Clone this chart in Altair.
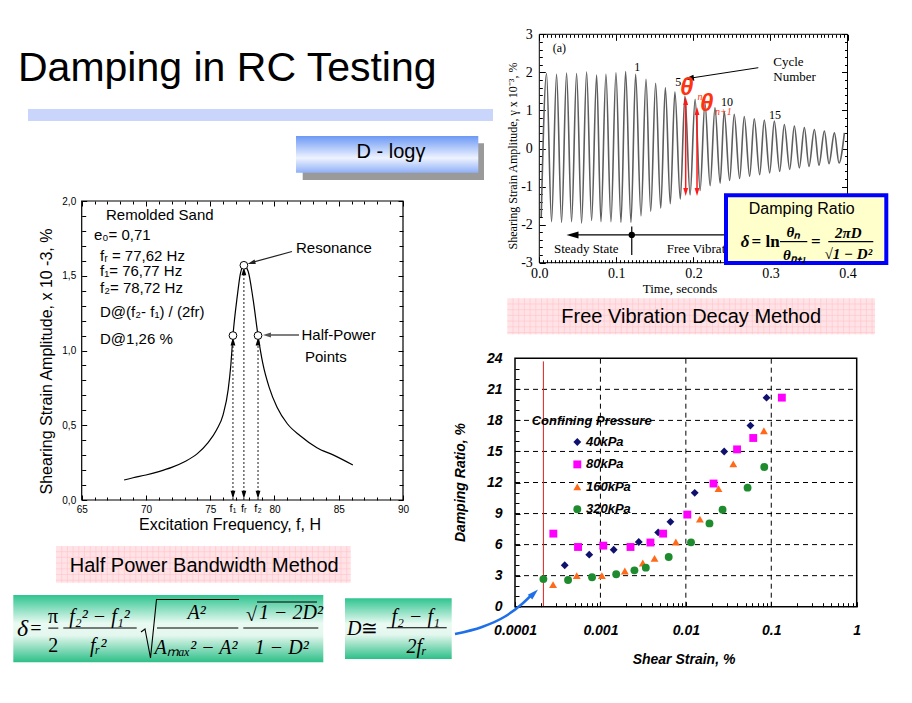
import math
import altair as alt
import pandas as pd

W, H = 896, 687
M = 8
SANS = "Liberation Sans"
SERIF = "Liberation Serif"

# ---------------- DATA ----------------
# Resonance curve (half-power bandwidth method)
res_freq = [68.3, 69.0, 70.0, 71.0, 72.0, 73.0, 74.0, 74.8, 75.5, 76.0, 76.4, 76.6, 76.77,
            77.1, 77.36, 77.62, 77.95, 78.34, 78.72, 79.1, 79.6, 80.2, 81.0, 82.0, 83.3, 84.6, 86.1]
res_amp = [0.134, 0.149, 0.167, 0.19, 0.218, 0.256, 0.31, 0.38, 0.47, 0.57, 0.74, 0.90, 1.10,
           1.36, 1.52, 1.57, 1.53, 1.34, 1.10, 0.91, 0.75, 0.62, 0.51, 0.43, 0.35, 0.30, 0.234]
hp_freq = [76.77, 77.62, 78.72]
hp_amp = [1.10, 1.57, 1.10]
hp_arrow_amp = [1.06, 1.53, 1.06]
hp_labels = ["f₁", "fᵣ", "f₂"]
res_x_ticks = [65, 70, 75, 80, 85, 90]
res_y_ticks = [0.0, 0.5, 1.0, 1.5, 2.0]

# Free vibration decay record
trough_t = [0.0025, 0.0159, 0.0289, 0.0419, 0.0549, 0.0679, 0.0800, 0.0930, 0.1060, 0.1190,
            0.1320, 0.1446, 0.1576, 0.1700, 0.1830, 0.1957, 0.2087, 0.2217, 0.2347, 0.2470,
            0.2600, 0.2730, 0.2860, 0.2990, 0.3120, 0.3250, 0.3375, 0.3500, 0.3630, 0.3760, 0.3890]
trough_v = [-1.80, -1.92, -1.94, -1.92, -1.96, -1.89, -1.92, -1.92, -1.94, -1.94,
            -1.77, -1.65, -1.57, -1.45, -1.33, -1.22, -1.10, -0.98, -0.91, -0.84,
            -0.79, -0.73, -0.69, -0.64, -0.60, -0.55, -0.51, -0.47, -0.44, -0.40, -0.38]
peak_t = [0.0094, 0.0224, 0.0354, 0.0484, 0.0614, 0.0744, 0.0865, 0.0995, 0.1120, 0.1250,
          0.1385, 0.1510, 0.1636, 0.1760, 0.1890, 0.2022, 0.2150, 0.2280, 0.2400, 0.2530,
          0.2660, 0.2790, 0.2920, 0.3050, 0.3180, 0.3310, 0.3440, 0.3570, 0.3700, 0.3830, 0.3960]
peak_v = [1.97, 1.95, 1.98, 1.97, 2.01, 1.93, 1.95, 1.99, 2.02, 1.95,
          1.82, 1.71, 1.60, 1.49, 1.38, 1.29, 1.20, 1.07, 0.98, 0.90,
          0.84, 0.78, 0.75, 0.72, 0.63, 0.59, 0.55, 0.50, 0.46, 0.41, 0.41]
vib_x_ticks = [0.0, 0.1, 0.2, 0.3, 0.4]
vib_y_ticks = [-3, -2, -1, 0, 1, 2, 3]
theta_t = [0.190, 0.2047]
theta_top = [1.35, 1.09]
theta_bot = [-1.25, -1.25]

# Damping ratio vs shear strain
pressures = ["40kPa", "80kPa", "160kPa", "320kPa"]
p_colors = ["#10106E", "#FF00FF", "#FF6A1A", "#1E8C2E"]
p_shapes = ["diamond", "square", "triangle-up", "circle"]
strain_40 = [3.82e-4, 7.4e-4, 1.43e-3, 2.81e-3, 4.74e-3, 6.6e-3, 1.27e-2, 2.81e-2, 5.7e-2, 8.8e-2]
damp_40 = [4.0, 5.03, 5.5, 6.25, 7.18, 8.2, 11.0, 15.0, 17.5, 20.2]
strain_80 = [2.81e-4, 5.47e-4, 1.08e-3, 2.25e-3, 3.85e-3, 5.42e-3, 1.04e-2, 2.11e-2, 3.98e-2, 6.15e-2, 0.133]
damp_80 = [7.06, 5.77, 5.9, 5.77, 6.2, 7.06, 8.9, 11.9, 15.2, 16.3, 20.2]
strain_160 = [2.79e-4, 5.28e-4, 1.04e-3, 1.93e-3, 3.13e-3, 4.3e-3, 7.64e-3, 1.46e-2, 2.41e-2, 3.59e-2, 8.2e-2]
damp_160 = [2.13, 3.0, 3.0, 3.45, 4.22, 4.67, 6.25, 8.47, 11.4, 13.8, 17.0]
strain_320 = [2.15e-4, 4.18e-4, 7.98e-4, 1.53e-3, 2.5e-3, 3.4e-3, 6.3e-3, 1.15e-2, 1.89e-2, 2.69e-2, 5.28e-2, 8.28e-2]
damp_320 = [2.67, 2.58, 2.84, 3.13, 3.51, 3.77, 4.8, 6.22, 8.05, 9.37, 11.5, 13.5]
sc_x_ticks = [0.0001, 0.001, 0.01, 0.1, 1]
sc_y_ticks = [0, 3, 6, 9, 12, 15, 18, 21, 24]
sc_ref_strain = 2.15e-4

# ---------------- helpers ----------------
def lin(dom, rng, **kw):
    return alt.Scale(domain=dom, range=rng, nice=False, zero=False, **kw)


def axis(orient, edge, values, ts, labels=False, **kw):
    if orient == "bottom":
        off = (edge - M) - ts - H
    elif orient == "top":
        off = -((edge - M) + ts)
    elif orient == "left":
        off = -((edge - M) + ts)
    else:
        off = (edge - M) - ts - W
    base = dict(orient=orient, values=values, tickSize=ts, offset=off, domain=False,
                grid=False, title=None, tickColor="black", tickWidth=1, labels=labels,
                labelColor="black", labelFlush=False, labelOverlap=False)
    base.update(kw)
    return alt.Axis(**base)


def axis_layer(xs, ys, xd, yd, xaxis, yaxis):
    df = pd.DataFrame({"x": xd, "y": yd})
    return alt.Chart(df).mark_point(opacity=0).encode(
        x=alt.X("x:Q", scale=xs, axis=xaxis),
        y=alt.Y("y:Q", scale=ys, axis=yaxis))


def rect_px(x1, y1, x2, y2, **kw):
    df = pd.DataFrame({"x": [x1 - M], "x2": [x2 - M], "y": [y1 - M], "y2": [y2 - M]})
    return alt.Chart(df).mark_rect(**kw).encode(
        x=alt.X("x:Q", scale=None, axis=None), x2="x2:Q",
        y=alt.Y("y:Q", scale=None, axis=None), y2="y2:Q")


def text_px(items, **kw):
    df = pd.DataFrame([{"x": x - M, "y": y - M, "t": t} for x, y, t in items])
    opts = dict(align="center", baseline="middle", color="black")
    opts.update(kw)
    return alt.Chart(df).mark_text(**opts).encode(
        x=alt.X("x:Q", scale=None, axis=None),
        y=alt.Y("y:Q", scale=None, axis=None),
        text="t:N")


def line_px(pts, **kw):
    df = pd.DataFrame([{"x": x - M, "y": y - M, "o": i} for i, (x, y) in enumerate(pts)])
    return alt.Chart(df).mark_line(**kw).encode(
        x=alt.X("x:Q", scale=None, axis=None),
        y=alt.Y("y:Q", scale=None, axis=None), order="o:Q")


def hatch_px(x1, y1, x2, y2, step, color):
    vx = []
    x = x1 + step
    while x < x2 - 1:
        vx.append(x)
        x += step
    hy = []
    y = y1 + step
    while y < y2 - 1:
        hy.append(y)
        y += step
    dv = pd.DataFrame({"x": [v - M for v in vx], "y": [y1 - M] * len(vx), "y2": [y2 - M] * len(vx)})
    dh = pd.DataFrame({"y": [v - M for v in hy], "x": [x1 - M] * len(hy), "x2": [x2 - M] * len(hy)})
    a = alt.Chart(dv).mark_rule(color=color, strokeWidth=0.6).encode(
        x=alt.X("x:Q", scale=None, axis=None), y=alt.Y("y:Q", scale=None, axis=None), y2="y2:Q")
    b = alt.Chart(dh).mark_rule(color=color, strokeWidth=0.6).encode(
        y=alt.Y("y:Q", scale=None, axis=None), x=alt.X("x:Q", scale=None, axis=None), x2="x2:Q")
    return [a, b]


HEAD = "M0,-1L0.6,1L-0.6,1Z"


def head_px(x, y, dx, dy, length, color):
    d = math.hypot(dx, dy)
    ux, uy = dx / d, dy / d
    ang = math.degrees(math.atan2(dx, -dy)) % 360
    r = length / 2.0
    df = pd.DataFrame({"x": [x - ux * r - M], "y": [y - uy * r - M]})
    return alt.Chart(df).mark_point(shape=HEAD, filled=True, size=length * length, color=color,
                                    angle=ang, opacity=1, strokeWidth=0).encode(
        x=alt.X("x:Q", scale=None, axis=None), y=alt.Y("y:Q", scale=None, axis=None))


def vgrad(stops):
    return alt.LinearGradient(gradient="linear",
                              stops=[alt.GradientStop(color=c, offset=o) for o, c in stops],
                              x1=0, x2=0, y1=0, y2=1)


layers = []

# ---------------- slide decorations ----------------
layers.append(rect_px(28, 109, 493, 121, color="#C9D5FB"))
layers.append(text_px([(18, 80.7, "Damping in RC Testing")], font=SANS, fontSize=41,
                      align="left", baseline="alphabetic"))
layers.append(rect_px(302.7, 143.3, 484, 180, color="#9A9A9A"))
layers.append(rect_px(296, 136, 478.3, 172.7,
                      fill=vgrad([(0, "#6C98F4"), (0.6, "#EEF3FF"), (1, "#8FB0F7")])))
layers.append(text_px([(391, 158.3, "D - logγ")], font=SANS, fontSize=20, baseline="alphabetic"))

# ---------------- resonance panel ----------------
RXL, RXR, RYT, RYB = 81.7, 403.0, 201.0, 500.0
res_x = lin([65, 90], [RXL - M, RXR - M])
res_y = lin([0, 2], [RYB - M, RYT - M])
res_minor_x = [v for v in range(66, 90) if v % 5]
res_minor_y = [round(i * 0.1, 1) for i in range(1, 20) if i % 5]
lab_r = dict(labelFont=SANS, labelFontSize=10)

layers.append(axis_layer(res_x, res_y, [65, 90], [0, 2],
                         axis("bottom", RYB, res_x_ticks, 5, labels=True, labelPadding=4, **lab_r),
                         axis("left", RXL, res_y_ticks, 5, labels=True, labelPadding=6,
                              labelExpr="replace(format(datum.value, '.1f'), '.', ',')", **lab_r)))
layers.append(axis_layer(res_x, res_y, [65, 90], [0, 2],
                         axis("top", RYT, res_x_ticks, 5), axis("right", RXR, res_y_ticks, 5)))
layers.append(axis_layer(res_x, res_y, [65, 90], [0, 2],
                         axis("bottom", RYB, res_minor_x, 3), axis("left", RXL, res_minor_y, 4)))
layers.append(axis_layer(res_x, res_y, [65, 90], [0, 2],
                         axis("top", RYT, res_minor_x, 3), axis("right", RXR, res_minor_y, 4)))

frame_res = pd.DataFrame({"x": [65], "x2": [90], "y": [0], "y2": [2]})
layers.append(alt.Chart(frame_res).mark_rect(fill="transparent", stroke="black", strokeWidth=1.2).encode(
    x=alt.X("x:Q", scale=res_x, axis=None), x2="x2:Q",
    y=alt.Y("y:Q", scale=res_y, axis=None), y2="y2:Q"))

res_df = pd.DataFrame({"f": res_freq, "a": res_amp})
layers.append(alt.Chart(res_df).mark_line(color="black", strokeWidth=1.2, interpolate="monotone").encode(
    x=alt.X("f:Q", scale=res_x, axis=None), y=alt.Y("a:Q", scale=res_y, axis=None)))

hp_df = pd.DataFrame({"f": hp_freq, "a": hp_amp, "tip": hp_arrow_amp, "zero": [0.0] * 3,
                      "low": [0.035] * 3, "lab": hp_labels})
layers.append(alt.Chart(hp_df).mark_rule(color="black", strokeWidth=0.9, strokeDash=[2, 2]).encode(
    x=alt.X("f:Q", scale=res_x, axis=None), y=alt.Y("zero:Q", scale=res_y, axis=None), y2="tip:Q"))
layers.append(alt.Chart(hp_df).mark_point(shape=HEAD, filled=True, size=64, color="black", opacity=1,
                                          strokeWidth=0).encode(
    x=alt.X("f:Q", scale=res_x, axis=None), y=alt.Y("tip:Q", scale=res_y, axis=None)))
layers.append(alt.Chart(hp_df).mark_point(shape=HEAD, filled=True, size=64, color="black", opacity=1,
                                          strokeWidth=0, angle=180).encode(
    x=alt.X("f:Q", scale=res_x, axis=None), y=alt.Y("low:Q", scale=res_y, axis=None)))
layers.append(alt.Chart(hp_df).mark_point(shape="circle", filled=True, fill="white", stroke="black",
                                          strokeWidth=1, size=60, opacity=1).encode(
    x=alt.X("f:Q", scale=res_x, axis=None), y=alt.Y("a:Q", scale=res_y, axis=None)))
layers.append(alt.Chart(hp_df).mark_text(font=SANS, fontSize=11, baseline="middle", color="black").encode(
    x=alt.X("f:Q", scale=res_x, axis=None), y=alt.value(508.5 - M), text="lab:N"))

layers.append(text_px([(46.7, 361.5, "Shearing Strain Amplitude, x 10 -3, %")],
                      font=SANS, fontSize=16, angle=270))
layers.append(text_px([(230, 524.5, "Excitation Frequency, f, H")], font=SANS, fontSize=16))
layers.append(text_px([(106, 215, "Remolded Sand"), (94, 234.5, "e₀= 0,71"),
                       (100, 255.5, "fᵣ = 77,62 Hz"), (100, 271, "f₁= 76,77 Hz"),
                       (100, 288, "f₂= 78,72 Hz"), (100, 312, "D@(f₂- f₁) / (2fr)"),
                       (100, 338.5, "D@1,26 %")],
                      font=SANS, fontSize=15, align="left"))
layers.append(text_px([(296, 248, "Resonance"), (301.5, 335, "Half-Power"), (305, 356.5, "Points")],
                      font=SANS, fontSize=15, align="left"))
layers.append(line_px([(292, 251.5), (252, 262.5)], color="#222222", strokeWidth=1.2))
layers.append(head_px(247.5, 264, -44, 12.5, 8, "#222222"))
layers.append(line_px([(299, 335), (268, 335)], color="#555555", strokeWidth=1.5))
layers.append(head_px(263, 335, -1, 0, 8, "#555555"))

# ---------------- free vibration panel ----------------
VXL, VXR, VYT, VYB = 539.3, 847.5, 34.3, 262.7
vib_x = lin([0, 0.4], [VXL - M, VXR - M])
vib_y = lin([-3, 3], [VYB - M, VYT - M])
vib_minor_x = [round(i * 0.005, 3) for i in range(1, 80) if i % 20]
vib_minor_y = [round(-3 + i * 0.2, 1) for i in range(1, 30) if i % 5]
lab_v = dict(labelFont=SERIF, labelFontSize=14)

layers.append(axis_layer(vib_x, vib_y, [0, 0.4], [-3, 3],
                         axis("bottom", VYB, vib_x_ticks, 6, labels=True, labelPadding=4,
                              format=".1f", **lab_v),
                         axis("left", VXL, vib_y_ticks, 6, labels=True, labelPadding=7,
                              labelExpr="datum.value < 0 ? '-' + abs(datum.value) : '' + datum.value",
                              **lab_v)))
layers.append(axis_layer(vib_x, vib_y, [0, 0.4], [-3, 3],
                         axis("top", VYT, vib_x_ticks, 6), axis("right", VXR, vib_y_ticks, 6)))
layers.append(axis_layer(vib_x, vib_y, [0, 0.4], [-3, 3],
                         axis("bottom", VYB, vib_minor_x, 3), axis("left", VXL, vib_minor_y, 3)))
layers.append(axis_layer(vib_x, vib_y, [0, 0.4], [-3, 3],
                         axis("top", VYT, vib_minor_x, 3), axis("right", VXR, vib_minor_y, 3)))
frame_vib = pd.DataFrame({"x": [0], "x2": [0.4], "y": [-3], "y2": [3]})
layers.append(alt.Chart(frame_vib).mark_rect(fill="transparent", stroke="black", strokeWidth=1).encode(
    x=alt.X("x:Q", scale=vib_x, axis=None), x2="x2:Q",
    y=alt.Y("y:Q", scale=vib_y, axis=None), y2="y2:Q"))

wave = pd.DataFrame({"t": trough_t + peak_t, "v": trough_v + peak_v}).sort_values("t")
layers.append(alt.Chart(wave).mark_line(color="#5E5E5E", strokeWidth=1.6, interpolate="monotone").encode(
    x=alt.X("t:Q", scale=vib_x, axis=None), y=alt.Y("v:Q", scale=vib_y, axis=None)))

ss_df = pd.DataFrame({"t": [0.0434], "t2": [0.4], "v": [-2.27]})
layers.append(alt.Chart(ss_df).mark_rule(color="black", strokeWidth=1.2).encode(
    x=alt.X("t:Q", scale=vib_x, axis=None), x2="t2:Q", y=alt.Y("v:Q", scale=vib_y, axis=None)))
layers.append(head_px(566.5, 235, -1, 0, 12, "black"))
tick_df = pd.DataFrame({"t": [0.12], "v": [-2.05], "v2": [-2.8], "vm": [-2.27]})
layers.append(alt.Chart(tick_df).mark_rule(color="black", strokeWidth=1.2).encode(
    x=alt.X("t:Q", scale=vib_x, axis=None), y=alt.Y("v:Q", scale=vib_y, axis=None), y2="v2:Q"))
layers.append(alt.Chart(tick_df).mark_point(shape="circle", filled=True, color="black", size=40,
                                            opacity=1).encode(
    x=alt.X("t:Q", scale=vib_x, axis=None), y=alt.Y("vm:Q", scale=vib_y, axis=None)))
layers.append(text_px([(554, 249, "Steady State"), (666.7, 249, "Free Vibration")],
                      font=SERIF, fontSize=13, align="left"))
layers.append(text_px([(513.3, 156, "Shearing Strain Amplitude, γ x 10⁻³, %")],
                      font=SERIF, fontSize=12, angle=270))
layers.append(text_px([(680, 288.5, "Time, seconds")], font=SERIF, fontSize=13))
layers.append(text_px([(559.3, 48.3, "(a)"), (637.3, 66.7, "1"), (678.3, 82.3, "5"),
                       (727, 102.3, "10"), (775, 115, "15")], font=SERIF, fontSize=12))
layers.append(text_px([(773.3, 61.7, "Cycle"), (773.3, 77.3, "Number")], font=SERIF, fontSize=13,
                      align="left"))
layers.append(line_px([(758.3, 67.7), (690, 78.2)], color="black", strokeWidth=1))
layers.append(head_px(684, 79.2, -73.3, 11.3, 10, "black"))

# red theta arrows
px_per_unit = (VYB - VYT) / 6.0
hl = 8.0 / px_per_unit
th_df = pd.DataFrame({"t": theta_t, "top": theta_top, "bot": theta_bot,
                      "htop": [v - hl / 2 for v in theta_top], "hbot": [v + hl / 2 for v in theta_bot]})
layers.append(alt.Chart(th_df).mark_rule(color="#FF1A1A", strokeWidth=1.5).encode(
    x=alt.X("t:Q", scale=vib_x, axis=None), y=alt.Y("htop:Q", scale=vib_y, axis=None), y2="hbot:Q"))
layers.append(alt.Chart(th_df).mark_point(shape=HEAD, filled=True, size=64, color="#FF1A1A", opacity=1,
                                          strokeWidth=0).encode(
    x=alt.X("t:Q", scale=vib_x, axis=None), y=alt.Y("htop:Q", scale=vib_y, axis=None)))
layers.append(alt.Chart(th_df).mark_point(shape=HEAD, filled=True, size=64, color="#FF1A1A", opacity=1,
                                          strokeWidth=0, angle=180).encode(
    x=alt.X("t:Q", scale=vib_x, axis=None), y=alt.Y("hbot:Q", scale=vib_y, axis=None)))
layers.append(text_px([(686.7, 88, "θ"), (706.7, 104, "θ")], font=SANS, fontSize=24,
                      fontWeight="bold", fontStyle="italic", color="#FF3311"))
layers.append(text_px([(697.5, 97, "n"), (715, 111.5, "n+1")], font=SERIF, fontSize=10,
                      fontStyle="italic", color="#FF3311", align="left"))

# damping ratio box
layers.append(rect_px(726, 195.3, 886.3, 263, fill="#FFFFCC", stroke="#0000FF", strokeWidth=4))
layers.append(text_px([(801.7, 208.5, "Damping Ratio")], font=SANS, fontSize=16))
layers.append(text_px([(745, 242, "δ")], font=SERIF, fontSize=17, fontWeight="bold", fontStyle="italic"))
layers.append(text_px([(751.5, 242, "= ln")], font=SERIF, fontSize=17, fontWeight="bold", align="left"))
layers.append(text_px([(793.3, 231.5, "θₙ"), (795, 255, "θₙ₊₁"), (848.3, 232.5, "2πD"),
                       (848.3, 253.5, "√1 − D²")],
                      font=SERIF, fontSize=15, fontWeight="bold", fontStyle="italic"))
layers.append(text_px([(815.8, 242, "=")], font=SERIF, fontSize=17, fontWeight="bold"))
layers.append(rect_px(780, 241, 807.3, 242.2, color="black"))
layers.append(rect_px(828.3, 241, 873.3, 242.2, color="black"))

# ---------------- method labels ----------------
layers.append(rect_px(56, 546, 350.7, 582.7, color="#FFE3E6"))
layers.extend(hatch_px(56, 546, 350.7, 582.7, 5.7, "#FFC2C9"))
layers.append(text_px([(204.2, 572.3, "Half Power Bandwidth Method")], font=SANS, fontSize=20,
                      baseline="alphabetic"))
layers.append(rect_px(507.3, 298.3, 875, 334.3, color="#FFE3E6"))
layers.extend(hatch_px(507.3, 298.3, 875, 334.3, 5.7, "#FFC2C9"))
layers.append(text_px([(691.2, 323.3, "Free Vibration Decay Method")], font=SANS, fontSize=20,
                      baseline="alphabetic"))

# ---------------- damping ratio vs strain panel ----------------
SXL, SXR, SYT, SYB = 515.0, 856.7, 358.3, 606.7
sc_x = alt.Scale(type="log", domain=[0.0001, 1], range=[SXL - M, SXR - M], nice=False)
sc_y = lin([0, 24], [SYB - M, SYT - M])
sc_minor_x = [k * 10.0 ** e for e in range(-4, 0) for k in range(2, 10)]
sc_minor_y = [v for v in range(1, 24) if v % 3]
lab_s = dict(labelFont=SANS, labelFontSize=14, labelFontWeight="bold", labelFontStyle="italic")

grid_h = pd.DataFrame({"y": sc_y_ticks[1:-1], "x0": [0.0001] * 7, "x1": [1.0] * 7})
layers.append(alt.Chart(grid_h).mark_rule(color="black", strokeWidth=1, strokeDash=[5, 4]).encode(
    y=alt.Y("y:Q", scale=sc_y, axis=None), x=alt.X("x0:Q", scale=sc_x, axis=None), x2="x1:Q"))
grid_v = pd.DataFrame({"x": sc_x_ticks[1:-1], "y0": [0] * 3, "y1": [24] * 3})
layers.append(alt.Chart(grid_v).mark_rule(color="black", strokeWidth=1, strokeDash=[5, 4]).encode(
    x=alt.X("x:Q", scale=sc_x, axis=None), y=alt.Y("y0:Q", scale=sc_y, axis=None), y2="y1:Q"))
ref_df = pd.DataFrame({"x": [sc_ref_strain], "y0": [0], "y1": [23.7]})
layers.append(alt.Chart(ref_df).mark_rule(color="#E02020", strokeWidth=1).encode(
    x=alt.X("x:Q", scale=sc_x, axis=None), y=alt.Y("y0:Q", scale=sc_y, axis=None), y2="y1:Q"))
frame_sc = pd.DataFrame({"x": [0.0001], "x2": [1.0], "y": [0], "y2": [24]})
layers.append(alt.Chart(frame_sc).mark_rect(fill="transparent", stroke="black", strokeWidth=1.5).encode(
    x=alt.X("x:Q", scale=sc_x, axis=None), x2="x2:Q",
    y=alt.Y("y:Q", scale=sc_y, axis=None), y2="y2:Q"))
layers.append(axis_layer(sc_x, sc_y, [0.0001, 1], [0, 24],
                         axis("bottom", SYB, sc_x_ticks, 5, labels=True, labelPadding=17,
                              labelExpr="'' + datum.value", **lab_s),
                         axis("left", SXL, sc_y_ticks, 5, labels=True, labelPadding=13, **lab_s)))
layers.append(axis_layer(sc_x, sc_y, [0.0001, 1], [0, 24],
                         axis("bottom", SYB, sc_minor_x, 4), axis("left", SXL, sc_minor_y, 4)))

sc_df = pd.concat([
    pd.DataFrame({"strain": strain_40, "damp": damp_40, "p": pressures[0]}),
    pd.DataFrame({"strain": strain_80, "damp": damp_80, "p": pressures[1]}),
    pd.DataFrame({"strain": strain_160, "damp": damp_160, "p": pressures[2]}),
    pd.DataFrame({"strain": strain_320, "damp": damp_320, "p": pressures[3]}),
])
color_s = alt.Scale(domain=pressures, range=p_colors)
shape_s = alt.Scale(domain=pressures, range=p_shapes)
layers.append(alt.Chart(sc_df).mark_point(filled=True, size=62, opacity=1, strokeWidth=0).encode(
    x=alt.X("strain:Q", scale=sc_x, axis=None), y=alt.Y("damp:Q", scale=sc_y, axis=None),
    color=alt.Color("p:N", scale=color_s, legend=None),
    shape=alt.Shape("p:N", scale=shape_s, legend=None)))

leg_df = pd.DataFrame({"p": pressures, "lx": [577.3 - M] * 4, "tx": [586 - M] * 4,
                       "ly": [442 - M + i * 22.4 for i in range(4)]})
layers.append(alt.Chart(leg_df).mark_point(filled=True, size=62, opacity=1, strokeWidth=0).encode(
    x=alt.X("lx:Q", scale=None, axis=None), y=alt.Y("ly:Q", scale=None, axis=None),
    color=alt.Color("p:N", scale=color_s, legend=None),
    shape=alt.Shape("p:N", scale=shape_s, legend=None)))
layers.append(alt.Chart(leg_df).mark_text(font=SANS, fontSize=13, fontWeight="bold", fontStyle="italic",
                                          align="left", baseline="middle", color="black").encode(
    x=alt.X("tx:Q", scale=None, axis=None), y=alt.Y("ly:Q", scale=None, axis=None), text="p:N"))
layers.append(text_px([(531.7, 421, "Confining Pressure")], font=SANS, fontSize=13, fontWeight="bold",
                      fontStyle="italic", align="left"))
layers.append(text_px([(461, 482.5, "Damping Ratio, %")], font=SANS, fontSize=14, fontWeight="bold",
                      fontStyle="italic", angle=270))
layers.append(text_px([(684, 660, "Shear Strain, %")], font=SANS, fontSize=14, fontWeight="bold",
                      fontStyle="italic"))

# ---------------- formula boxes ----------------
green = vgrad([(0, "#2FC48F"), (0.42, "#E9FAF2"), (0.6, "#E4F7EE"), (1, "#2DBF88")])
layers.append(rect_px(13.3, 595, 323.3, 662.3, fill=green))
layers.append(rect_px(345, 598.3, 451.7, 659, fill=green))
it = dict(font=SERIF, fontSize=20, fontStyle="italic")
rm = dict(font=SERIF, fontSize=20)
layers.append(text_px([(22.5, 628.5, "δ")], font=SERIF, fontSize=24, fontStyle="italic"))
layers.append(text_px([(36, 628.5, "=")], **rm))
layers.append(text_px([(53, 616.5, "π"), (53.3, 645.5, "2")], **rm))
layers.append(text_px([(99.5, 616.5, "f₂² − f₁²"), (98.3, 645.5, "fᵣ²"), (196.7, 613.3, "A²"),
                       (196, 648.3, "Aₘₐₓ² − A²"), (281.7, 648.3, "1 − D²")], **it))
layers.append(text_px([(259, 613.3, "1 − 2D²")], align="left", **it))
layers.append(text_px([(251.5, 614.5, "√")], font=SERIF, fontSize=20))
for x1, x2 in [(48.3, 58.3), (63.3, 136.7), (157, 238.3), (243.3, 318.3)]:
    layers.append(rect_px(x1, 627.6, x2, 628.6, color="black"))
layers.append(rect_px(257, 601.5, 317, 602.5, color="black"))
layers.append(line_px([(141, 632), (145, 629), (150.5, 658), (156.5, 599.5), (239, 599.5)],
                      color="black", strokeWidth=1.1))
layers.append(text_px([(354.2, 628.5, "D")], **it))
layers.append(text_px([(369.5, 628.5, "≅")], **rm))
layers.append(text_px([(415.8, 616.7, "f₂ − f₁"), (416.7, 646.7, "2fᵣ")], **it))
layers.append(rect_px(386.7, 627.2, 446.7, 628.2, color="black"))

# blue curved arrow
layers.append(line_px([(455, 634), (482, 627), (505, 616.5), (522, 604), (531, 595.5)],
                      color="#1F6FE8", strokeWidth=2.5, interpolate="monotone"))
layers.append(head_px(538, 589.5, 1, -0.95, 11, "#1F6FE8"))

chart = alt.layer(*layers).resolve_scale(x="independent", y="independent").properties(
    width=W, height=H, autosize=alt.AutoSizeParams(type="none"), padding=0
).configure_view(strokeWidth=0)

chart.save("out.html", embed_options={"renderer": "svg", "actions": False})
